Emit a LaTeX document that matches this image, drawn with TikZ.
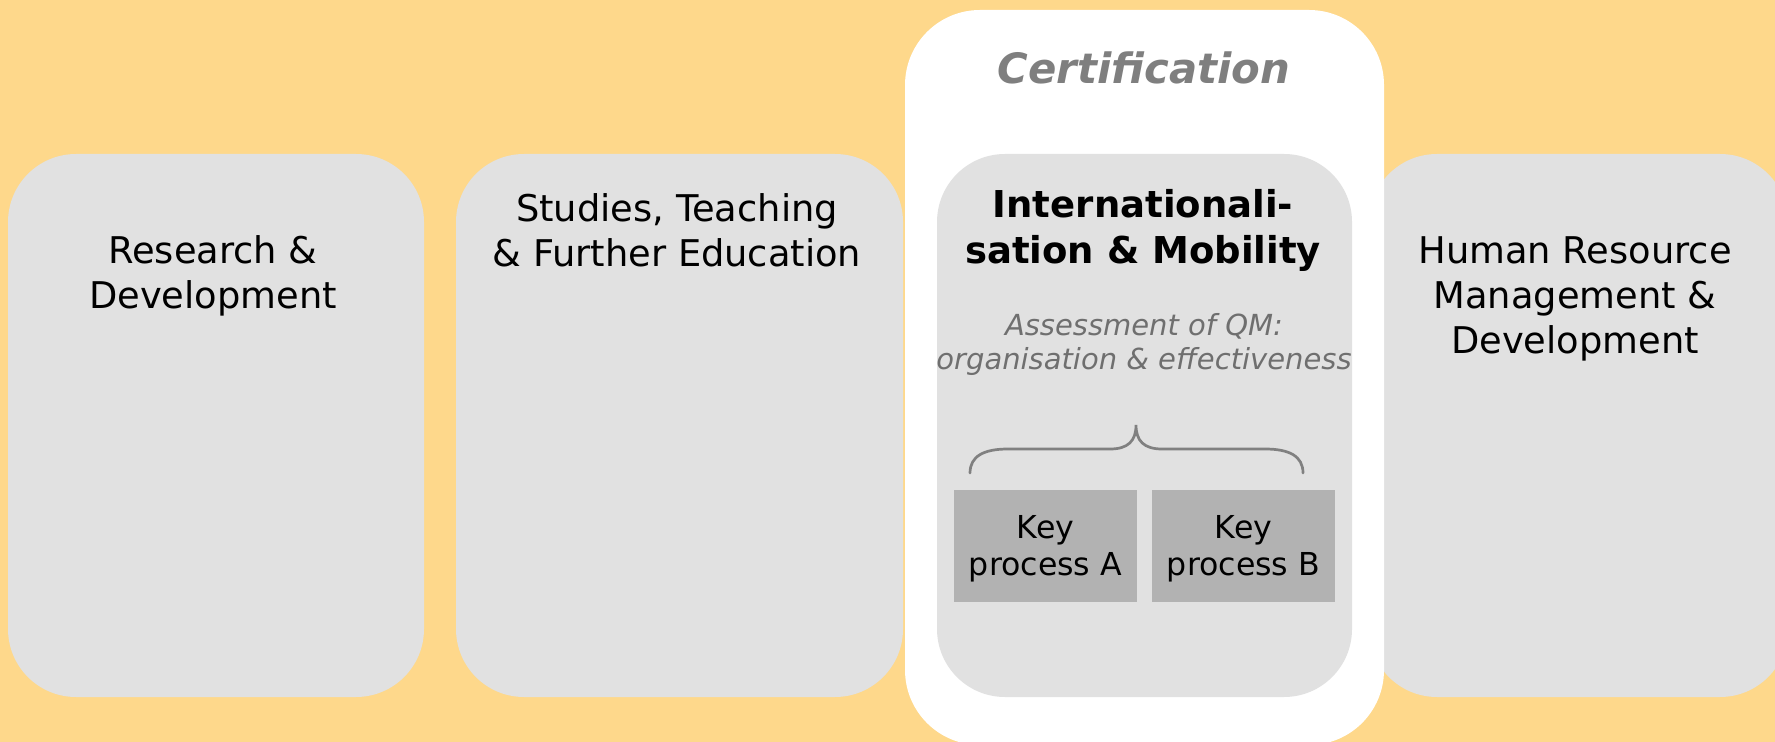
\documentclass[tikz,border=0pt]{standalone}
\usepackage{fontspec}
\setmainfont{DejaVu Sans}
\definecolor{bgcol}{HTML}{FED88B}
\definecolor{boxgray}{HTML}{E1E1E1}
\definecolor{keygray}{HTML}{B2B2B2}
\definecolor{bracegray}{HTML}{808080}
\definecolor{certgray}{HTML}{7F7F7F}
\definecolor{subgray}{HTML}{6F6F6F}
\tikzset{
  areabox/.style={rectangle, rounded corners=34pt, fill=boxgray, draw=none, inner sep=0pt, outer sep=0pt, minimum height=271.5pt},
  certbox/.style={rectangle, rounded corners=37.5pt, fill=white, draw=none, inner sep=0pt, outer sep=0pt},
  keybox/.style={rectangle, fill=keygray, draw=none, inner sep=0pt, outer sep=0pt, minimum width=91.5pt, minimum height=56pt},
  areatext/.style={anchor=base, align=center, inner sep=0pt, font={\fontsize{18.4pt}{22.5pt}\selectfont}},
  keytext/.style={anchor=base, align=center, inner sep=0pt, font={\fontsize{15.8pt}{18.5pt}\selectfont}},
  bracepath/.style={draw=bracegray, line width=1.35pt, line cap=round}
}
\begin{document}
\begin{tikzpicture}[x=0.5pt,y=-0.5pt]
\useasboundingbox (0,0) rectangle (1775,742);
\clip (0,0) rectangle (1775,742);
\fill[bgcol] (0,0) rectangle (1775,742);

% outer area boxes
\node[areabox, minimum width=208pt] (rd) at (216,425.5) {};
\node[areabox, minimum width=223.5pt] (st) at (679.5,425.5) {};
\node[areabox, minimum width=209.5pt] (hr) at (1578.5,425.5) {};

% certification frame
\node[certbox, minimum width=239.5pt, minimum height=367.5pt] (cert) at (1144.5,377.5) {};
\node[areabox, minimum width=207.5pt] (im) at (1144.5,425.5) {};

% key processes
\node[keybox] (ka) at (1045.5,546) {};
\node[keybox] (kb) at (1243.5,546) {};

% brace
\draw[bracepath] (970,473) .. controls (970,456) and (984,449) .. (1008,449)
  -- (1110,449) .. controls (1128,449) and (1136,441) .. (1136,425)
  .. controls (1136,441) and (1144,449) .. (1162,449)
  -- (1265,449) .. controls (1289,449) and (1303,456) .. (1303,473);

% texts (anchor = baseline of last line)
\node[areatext] (rdt) at (213,309) {Research \&\\Development};
\node[areatext] (stt) at (677,266.5) {Studies, Teaching\\\& Further Education};
\node[areatext] (hrt) at (1575,354) {Human Resource\\Management \&\\Development};
\node[anchor=base, inner sep=0pt, text=certgray, font={\fontsize{20.9pt}{25pt}\selectfont\bfseries\itshape}] (certt) at (1144,84) {Certification};
\node[areatext, font={\fontsize{18.5pt}{22.75pt}\selectfont\bfseries}] (imt) at (1143,263.5) {Internationali-\\sation \& Mobility};
\node[anchor=base, align=center, inner sep=0pt, text=subgray, font={\fontsize{14.5pt}{17pt}\selectfont\itshape}] (sub) at (1144,370) {Assessment of QM:\\organisation \& effectiveness};
\node[keytext] (kat) at (1045.5,575) {Key\\process A};
\node[keytext] (kbt) at (1243.5,575) {Key\\process B};
\end{tikzpicture}
\end{document}
